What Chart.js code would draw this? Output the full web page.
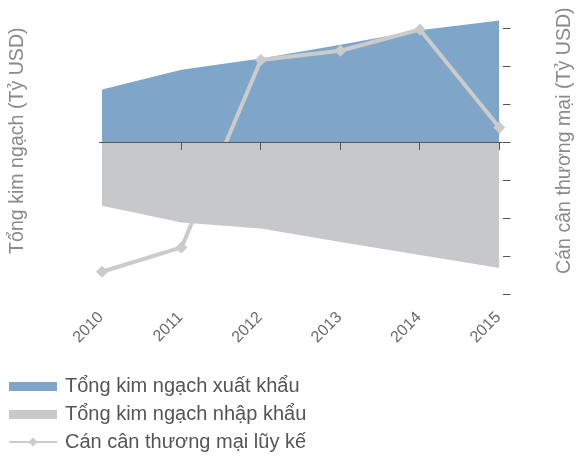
<!DOCTYPE html>
<html>
<head>
<meta charset="utf-8">
<title>Kim ngạch xuất nhập khẩu 2010-2015</title>
<script src="https://cdn.jsdelivr.net/npm/chart.js@4.4.1/dist/chart.umd.min.js"></script>
<style>
  html, body { margin: 0; padding: 0; background: #fff; }
  #chart { display: block; }
</style>
</head>
<body>
<canvas id="chart" width="586" height="457"></canvas>
<script>
(function() {
  'use strict';

  // values (Tỷ USD)
  const years = [2010, 2011, 2012, 2013, 2014, 2015];
  const exportValues = [70, 96, 111, 129, 148, 161];
  const importValues = [83, 105, 113, 131, 148, 165];
  // the right axis has no labels, so this series sits on its own estimated scale
  const balanceValues = [-17, -13.8, 10.9, 12.1, 14.9, 2.0];
  const rightTicks = [-20, -15, -10, -5, 0, 5, 10, 15];

  const seriesNames = ['Tổng kim ngạch xuất khẩu', 'Tổng kim ngạch nhập khẩu', 'Cán cân thương mại lũy kế'];
  const leftTitle = 'Tổng kim ngạch (Tỷ USD)';
  const rightTitle = 'Cán cân thương mại (Tỷ USD)';

  const blue = '#7fa5c8';
  const grey = '#c7c8ca';
  const lineGrey = '#cbcbcb';
  const axisColor = '#555';
  const fontFamily = '"Liberation Sans", Arial, sans-serif';

  Chart.defaults.font.family = fontFamily;

  //small canvases used as legend markers
  function boxIcon(color) {
    const c = document.createElement('canvas');
    c.width = 48;
    c.height = 9;
    const g = c.getContext('2d');
    g.fillStyle = color;
    g.fillRect(0, 0, c.width, c.height);
    return c;
  }

  function lineIcon(color) {
    const c = document.createElement('canvas');
    c.width = 48;
    c.height = 12;
    const g = c.getContext('2d');
    g.strokeStyle = color;
    g.fillStyle = color;
    g.lineWidth = 2;
    g.beginPath();
    g.moveTo(0, 6);
    g.lineTo(48, 6);
    g.stroke();
    g.beginPath();
    g.moveTo(24, 1.5);
    g.lineTo(28.5, 6);
    g.lineTo(24, 10.5);
    g.lineTo(19.5, 6);
    g.closePath();
    g.fill();
    return c;
  }

  const legendIcons = [boxIcon(blue), boxIcon('#c9c9c9'), lineIcon(lineGrey)];

  // the right title reads bottom to top, chart.js would turn it the other way
  const axisTitles = {
    id: 'axisTitles',
    afterDraw(chart) {
      const ctx = chart.ctx;
      const yMid = chart.scales.y.getPixelForValue(0) - 2;
      ctx.save();
      ctx.font = '19.6px ' + fontFamily;
      ctx.fillStyle = '#8a8a8a';
      ctx.textAlign = 'center';
      ctx.textBaseline = 'middle';
      [[leftTitle, chart.chartArea.left - 84.5], [rightTitle, chart.scales.y1.right - 21]].forEach(t => {
        ctx.save();
        ctx.translate(t[1], yMid);
        ctx.rotate(-Math.PI / 2);
        ctx.fillText(t[0], 0, 0);
        ctx.restore();
      });
      ctx.restore();
    }
  };

  const yearTicks = s => { s.ticks = years.map(v => ({ value: v })); };

  new Chart(document.getElementById('chart'), {
    type: 'line',
    data: {
      labels: years,
      datasets: [{
        label: seriesNames[0],
        data: exportValues,
        xAxisID: 'x',
        yAxisID: 'y',
        fill: 'origin',
        backgroundColor: blue,
        borderWidth: 0,
        pointRadius: 0,
        order: 2
      }, {
        label: seriesNames[1],
        data: importValues.map(v => -v),
        xAxisID: 'x',
        yAxisID: 'y',
        fill: 'origin',
        backgroundColor: grey,
        borderWidth: 0,
        pointRadius: 0,
        order: 0
      }, {
        // drawn between the two areas, so it disappears behind the grey one
        label: seriesNames[2],
        data: balanceValues,
        xAxisID: 'x',
        yAxisID: 'y1',
        fill: false,
        borderColor: lineGrey,
        borderWidth: 4,
        pointStyle: 'rectRot',
        pointRadius: 6,
        pointBackgroundColor: lineGrey,
        pointBorderWidth: 0,
        clip: false,
        order: 1
      }]
    },
    options: {
      responsive: false,
      animation: false,
      devicePixelRatio: 1,
      layout: { padding: { left: 3, top: 4.2, right: 0, bottom: 0 } },
      plugins: {
        tooltip: { enabled: false },
        legend: {
          position: 'bottom',
          align: 'start',
          maxHeight: 89,
          labels: {
            usePointStyle: true,
            pointStyleWidth: 44,
            boxHeight: 9,
            padding: 8,
            color: '#555',
            font: { size: 20 },
            generateLabels: chart => chart.data.datasets.map((ds, i) => ({
              text: ds.label,
              pointStyle: legendIcons[i],
              fillStyle: 'transparent',
              strokeStyle: 'transparent',
              lineWidth: 0,
              fontColor: '#555',
              hidden: false,
              datasetIndex: i
            }))
          }
        }
      },
      scales: {
        x: {
          type: 'linear',
          min: 2010,
          max: 2015.04,
          afterBuildTicks: yearTicks,
          afterFit: s => { s.height = 65.9; },
          grid: { display: false, drawTicks: false },
          border: { display: false },
          ticks: {
            autoSkip: false,
            minRotation: 45,
            maxRotation: 45,
            padding: 6,
            labelOffset: -1,
            color: '#6a6a6a',
            font: { size: 16 },
            callback: v => String(v)
          }
        },
        // tick marks sitting on the zero line
        xZero: {
          axis: 'x',
          type: 'linear',
          position: { y: 0 },
          min: 2010,
          max: 2015.04,
          afterBuildTicks: yearTicks,
          ticks: { display: false },
          grid: {
            z: 1,
            drawOnChartArea: false,
            tickLength: 7,
            color: c => c.index === 0 ? 'rgba(0,0,0,0)' : axisColor
          },
          border: { display: false }
        },
        y: {
          position: 'left',
          min: -210,
          max: 180,
          afterBuildTicks: s => { s.ticks = [{ value: 0 }]; },
          afterFit: s => { s.width = 99; },
          ticks: { display: false },
          grid: { z: 1, color: axisColor, tickLength: 3 },
          border: { display: false }
        },
        y1: {
          position: 'right',
          min: -21,
          max: 18,
          afterBuildTicks: s => { s.ticks = rightTicks.map(v => ({ value: v })); },
          afterFit: s => { s.width = 83.5; },
          ticks: { display: false },
          grid: { drawOnChartArea: false, color: axisColor, tickLength: 8 },
          border: { display: false }
        }
      }
    },
    plugins: [axisTitles]
  });
})();
</script>
</body>
</html>
